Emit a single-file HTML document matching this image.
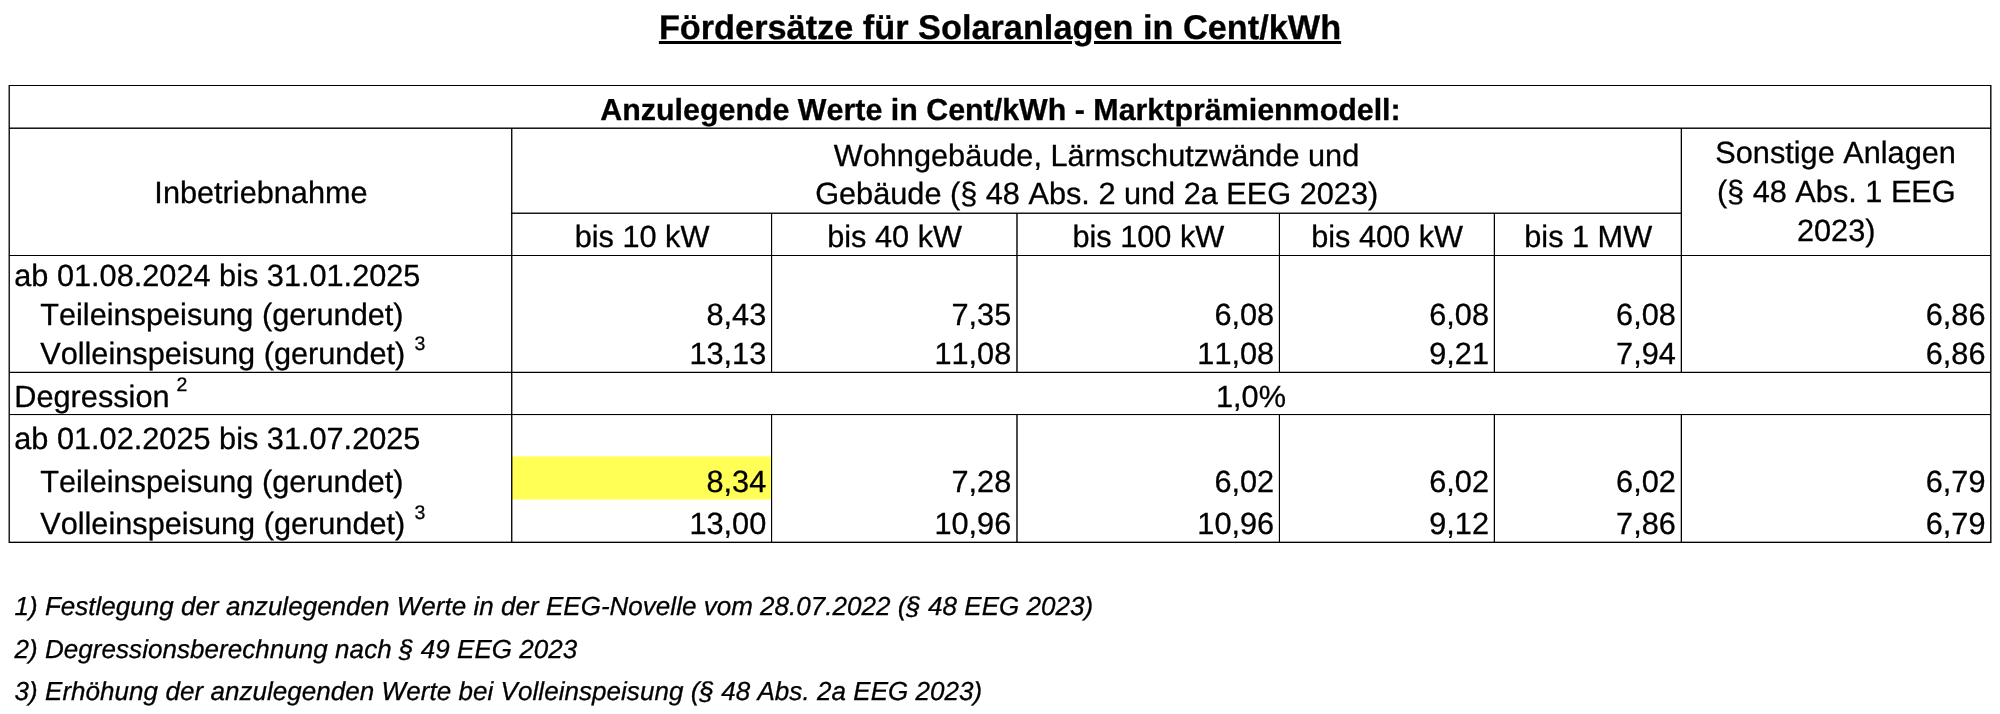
<!DOCTYPE html>
<html lang="de"><head><meta charset="utf-8"><title>Fördersätze für Solaranlagen</title>
<style>
html,body{margin:0;padding:0;background:#fff;}
body{width:2000px;height:714px;position:relative;overflow:hidden;font-family:"Liberation Sans",sans-serif;color:#000;}
.l{position:absolute;}
.t{position:absolute;white-space:nowrap;line-height:1;font-kerning:none;font-variant-ligatures:none;text-rendering:geometricPrecision;-webkit-text-stroke:0.3px #000;}
.s{font-size:19.5px;position:relative;top:-14.5px;margin-left:9.2px;}
.hl{position:absolute;background:#ffff55;}
</style></head><body>
<div class="hl" style="left:512px;top:457px;width:260px;height:42px"></div>
<div class="hl" style="left:512px;top:456px;width:260px;height:1px;opacity:.6"></div>
<div class="hl" style="left:512px;top:499px;width:260px;height:1px;opacity:.5"></div>
<div class="l" style="left:9px;top:85px;width:1982px;height:1px;background:rgba(0,0,0,1.00)"></div>
<div class="l" style="left:9px;top:127px;width:1982px;height:1px;background:rgba(0,0,0,0.50)"></div>
<div class="l" style="left:9px;top:128px;width:1982px;height:1px;background:rgba(0,0,0,0.90)"></div>
<div class="l" style="left:9px;top:255px;width:1982px;height:1px;background:rgba(0,0,0,1.00)"></div>
<div class="l" style="left:9px;top:371px;width:1982px;height:1px;background:rgba(0,0,0,0.25)"></div>
<div class="l" style="left:9px;top:372px;width:1982px;height:1px;background:rgba(0,0,0,1.00)"></div>
<div class="l" style="left:9px;top:414px;width:1982px;height:1px;background:rgba(0,0,0,1.00)"></div>
<div class="l" style="left:9px;top:415px;width:1982px;height:1px;background:rgba(0,0,0,0.08)"></div>
<div class="l" style="left:9px;top:541px;width:1982px;height:1px;background:rgba(0,0,0,0.35)"></div>
<div class="l" style="left:9px;top:542px;width:1982px;height:1px;background:rgba(0,0,0,1.00)"></div>
<div class="l" style="left:511px;top:212px;width:1171px;height:1px;background:rgba(0,0,0,0.45)"></div>
<div class="l" style="left:511px;top:213px;width:1171px;height:1px;background:rgba(0,0,0,0.90)"></div>
<div class="l" style="left:8px;top:85px;width:1px;height:458px;background:rgba(0,0,0,0.45)"></div>
<div class="l" style="left:9px;top:85px;width:1px;height:458px;background:rgba(0,0,0,0.87)"></div>
<div class="l" style="left:1990px;top:85px;width:1px;height:458px;background:rgba(0,0,0,0.87)"></div>
<div class="l" style="left:1991px;top:85px;width:1px;height:458px;background:rgba(0,0,0,0.50)"></div>
<div class="l" style="left:511px;top:128px;width:1px;height:415px;background:rgba(0,0,0,0.93)"></div>
<div class="l" style="left:512px;top:128px;width:1px;height:415px;background:rgba(0,0,0,0.40)"></div>
<div class="l" style="left:771px;top:213px;width:1px;height:160px;background:rgba(0,0,0,1.00)"></div>
<div class="l" style="left:772px;top:213px;width:1px;height:160px;background:rgba(0,0,0,0.15)"></div>
<div class="l" style="left:771px;top:414px;width:1px;height:129px;background:rgba(0,0,0,1.00)"></div>
<div class="l" style="left:772px;top:414px;width:1px;height:129px;background:rgba(0,0,0,0.15)"></div>
<div class="l" style="left:1016px;top:213px;width:1px;height:160px;background:rgba(0,0,0,0.72)"></div>
<div class="l" style="left:1017px;top:213px;width:1px;height:160px;background:rgba(0,0,0,0.68)"></div>
<div class="l" style="left:1016px;top:414px;width:1px;height:129px;background:rgba(0,0,0,0.72)"></div>
<div class="l" style="left:1017px;top:414px;width:1px;height:129px;background:rgba(0,0,0,0.68)"></div>
<div class="l" style="left:1278px;top:213px;width:1px;height:160px;background:rgba(0,0,0,0.15)"></div>
<div class="l" style="left:1279px;top:213px;width:1px;height:160px;background:rgba(0,0,0,1.00)"></div>
<div class="l" style="left:1278px;top:414px;width:1px;height:129px;background:rgba(0,0,0,0.15)"></div>
<div class="l" style="left:1279px;top:414px;width:1px;height:129px;background:rgba(0,0,0,1.00)"></div>
<div class="l" style="left:1493px;top:213px;width:1px;height:160px;background:rgba(0,0,0,0.25)"></div>
<div class="l" style="left:1494px;top:213px;width:1px;height:160px;background:rgba(0,0,0,1.00)"></div>
<div class="l" style="left:1493px;top:414px;width:1px;height:129px;background:rgba(0,0,0,0.25)"></div>
<div class="l" style="left:1494px;top:414px;width:1px;height:129px;background:rgba(0,0,0,1.00)"></div>
<div class="l" style="left:1680px;top:128px;width:1px;height:245px;background:rgba(0,0,0,0.30)"></div>
<div class="l" style="left:1681px;top:128px;width:1px;height:245px;background:rgba(0,0,0,1.00)"></div>
<div class="l" style="left:1680px;top:414px;width:1px;height:129px;background:rgba(0,0,0,0.30)"></div>
<div class="l" style="left:1681px;top:414px;width:1px;height:129px;background:rgba(0,0,0,1.00)"></div>
<div id="tx" style="position:absolute;left:0;top:0;width:2000px;height:714px;will-change:transform;">
<div class="t" style="left:1000.0px;transform:translateX(-50%);top:11px;font-size:34.3px;font-weight:bold;text-decoration:underline;text-decoration-thickness:3px;text-underline-offset:2px;">Fördersätze für Solaranlagen in Cent/kWh</div>
<div class="t" style="left:1000.5px;transform:translateX(-50%);top:95px;font-size:30.4px;font-weight:bold;">Anzulegende Werte in Cent/kWh - Marktprämienmodell:</div>
<div class="t" style="left:261.0px;transform:translateX(-50%);top:178px;font-size:30.7px;">Inbetriebnahme</div>
<div class="t" style="left:1096.5px;transform:translateX(-50%);top:141px;font-size:30.7px;">Wohngebäude, Lärmschutzwände und</div>
<div class="t" style="left:1096.7px;transform:translateX(-50%);top:179px;font-size:30.7px;">Gebäude (§ 48 Abs. 2 und 2a EEG 2023)</div>
<div class="t" style="left:642.0px;transform:translateX(-50%);top:222px;font-size:30.7px;">bis 10 kW</div>
<div class="t" style="left:894.6px;transform:translateX(-50%);top:222px;font-size:30.7px;">bis 40 kW</div>
<div class="t" style="left:1148.3px;transform:translateX(-50%);top:222px;font-size:30.7px;">bis 100 kW</div>
<div class="t" style="left:1387.1px;transform:translateX(-50%);top:222px;font-size:30.7px;">bis 400 kW</div>
<div class="t" style="left:1588.2px;transform:translateX(-50%);top:222px;font-size:30.7px;">bis 1 MW</div>
<div class="t" style="left:1835.6px;transform:translateX(-50%);top:138px;font-size:30.7px;">Sonstige Anlagen</div>
<div class="t" style="left:1836.3px;transform:translateX(-50%);top:177px;font-size:30.7px;">(§ 48 Abs. 1 EEG</div>
<div class="t" style="left:1836.2px;transform:translateX(-50%);top:216px;font-size:30.7px;">2023)</div>
<div class="t" style="left:14.3px;top:261px;font-size:30.7px;">ab 01.08.2024 bis 31.01.2025</div>
<div class="t" style="left:40.2px;top:300px;font-size:30.7px;">Teileinspeisung (gerundet)</div>
<div class="t" style="right:1233.8px;top:300px;font-size:30.7px;">8,43</div>
<div class="t" style="right:988.8px;top:300px;font-size:30.7px;">7,35</div>
<div class="t" style="right:725.9px;top:300px;font-size:30.7px;">6,08</div>
<div class="t" style="right:511.0px;top:300px;font-size:30.7px;">6,08</div>
<div class="t" style="right:324.2px;top:300px;font-size:30.7px;">6,08</div>
<div class="t" style="right:14.5px;top:300px;font-size:30.7px;">6,86</div>
<div class="t" style="left:40.2px;top:339px;font-size:30.7px;">Volleinspeisung (gerundet)<span class="s">3</span></div>
<div class="t" style="right:1233.8px;top:339px;font-size:30.7px;">13,13</div>
<div class="t" style="right:988.8px;top:339px;font-size:30.7px;">11,08</div>
<div class="t" style="right:725.9px;top:339px;font-size:30.7px;">11,08</div>
<div class="t" style="right:511.0px;top:339px;font-size:30.7px;">9,21</div>
<div class="t" style="right:324.2px;top:339px;font-size:30.7px;">7,94</div>
<div class="t" style="right:14.5px;top:339px;font-size:30.7px;">6,86</div>
<div class="t" style="left:14.3px;top:382px;font-size:30.7px;">Degression<span class="s" style="top:-16px;margin-left:6.9px">2</span></div>
<div class="t" style="left:14.3px;top:424px;font-size:30.7px;">ab 01.02.2025 bis 31.07.2025</div>
<div class="t" style="left:40.2px;top:467px;font-size:30.7px;">Teileinspeisung (gerundet)</div>
<div class="t" style="right:1233.8px;top:467px;font-size:30.7px;">8,34</div>
<div class="t" style="right:988.8px;top:467px;font-size:30.7px;">7,28</div>
<div class="t" style="right:725.9px;top:467px;font-size:30.7px;">6,02</div>
<div class="t" style="right:511.0px;top:467px;font-size:30.7px;">6,02</div>
<div class="t" style="right:324.2px;top:467px;font-size:30.7px;">6,02</div>
<div class="t" style="right:14.5px;top:467px;font-size:30.7px;">6,79</div>
<div class="t" style="left:40.2px;top:509px;font-size:30.7px;">Volleinspeisung (gerundet)<span class="s" style="top:-15.5px">3</span></div>
<div class="t" style="right:1233.8px;top:509px;font-size:30.7px;">13,00</div>
<div class="t" style="right:988.8px;top:509px;font-size:30.7px;">10,96</div>
<div class="t" style="right:725.9px;top:509px;font-size:30.7px;">10,96</div>
<div class="t" style="right:511.0px;top:509px;font-size:30.7px;">9,12</div>
<div class="t" style="right:324.2px;top:509px;font-size:30.7px;">7,86</div>
<div class="t" style="right:14.5px;top:509px;font-size:30.7px;">6,79</div>
<div class="t" style="left:1251.0px;transform:translateX(-50%);top:382px;font-size:30.7px;">1,0%</div>
<div class="t" style="left:14.5px;top:593px;font-size:26.0px;font-style:italic;letter-spacing:0.022px;">1) Festlegung der anzulegenden Werte in der EEG-Novelle vom 28.07.2022 (§ 48 EEG 2023)</div>
<div class="t" style="left:14.5px;top:636px;font-size:26.0px;font-style:italic;letter-spacing:0.048px;">2) Degressionsberechnung nach § 49 EEG 2023</div>
<div class="t" style="left:14.5px;top:678px;font-size:26.0px;font-style:italic;letter-spacing:0.048px;">3) Erhöhung der anzulegenden Werte bei Volleinspeisung (§ 48 Abs. 2a EEG 2023)</div>
</div>
</body></html>
